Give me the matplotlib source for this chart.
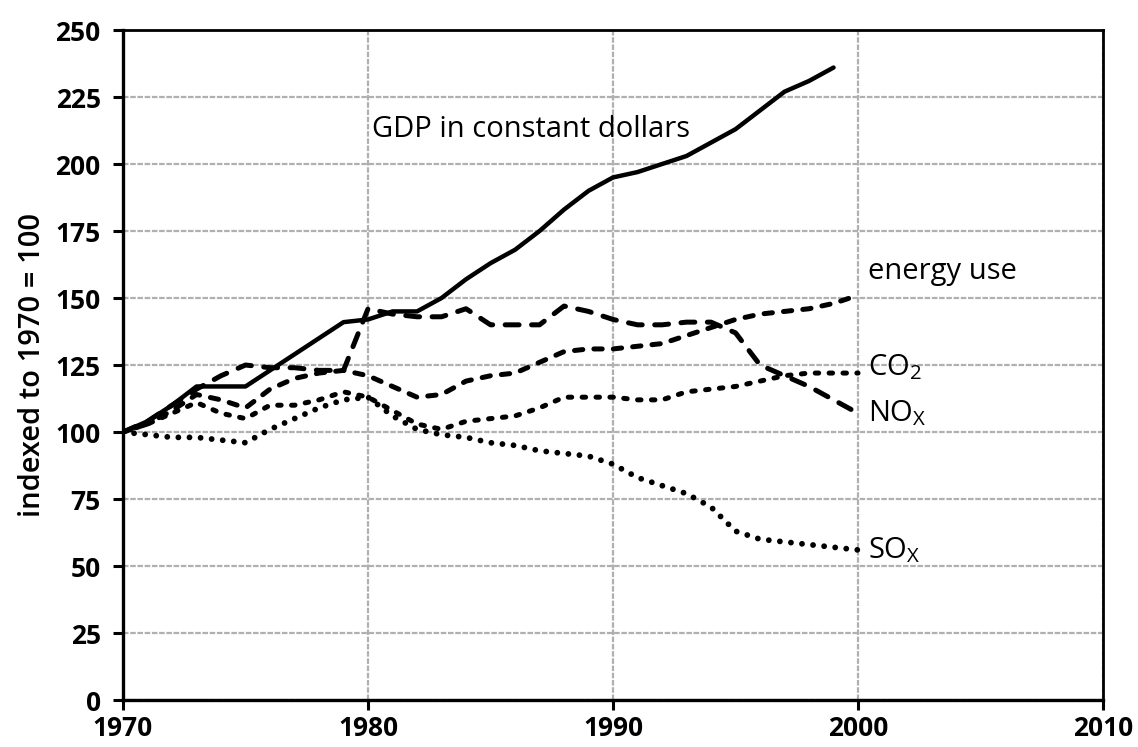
import numpy as np
import matplotlib
matplotlib.use("Agg")
import matplotlib.pyplot as plt

# === Data (indexed to 1970 = 100) ===
years = list(range(1970, 2001))
gdp_years = list(range(1970, 2000))
gdp = [100, 104, 110, 117, 117, 117, 123, 129, 135, 141,
       142, 145, 145, 150, 157, 163, 168, 175, 183, 190,
       195, 197, 200, 203, 208, 213, 220, 227, 231, 236]
energy = [100, 103, 108, 114, 112, 109, 116, 120, 122, 123,
          121, 117, 113, 114, 119, 121, 122, 126, 130, 131,
          131, 132, 133, 136, 139, 142, 144, 145, 146, 148, 151]
co2 = [100, 103, 107, 111, 107, 105, 110, 110, 112, 115,
       113, 108, 103, 101, 104, 105, 106, 109, 113, 113,
       113, 112, 112, 115, 116, 117, 119, 121, 122, 122, 122]
nox = [100, 104, 110, 116, 121, 125, 124, 124, 123, 123,
       146, 144, 143, 143, 146, 140, 140, 140, 147, 145,
       142, 140, 140, 141, 141, 137, 125, 121, 117, 112, 107]
sox = [100, 99, 98, 98, 97, 96, 101, 105, 109, 112,
       113, 106, 101, 99, 98, 96, 95, 93, 92, 91,
       88, 83, 80, 77, 72, 63, 60, 59, 58, 57, 56]

plt.rcParams['font.family'] = ['Open Sans', 'DejaVu Sans']
plt.rcParams['mathtext.fontset'] = 'custom'
plt.rcParams['mathtext.rm'] = 'Open Sans'
plt.rcParams['lines.scale_dashes'] = False

fig = plt.figure(figsize=(11.38, 7.47), dpi=100)
ax = fig.add_axes([0.1081, 0.0629, 0.8612, 0.8969])

# === Lines ===
ax.plot(gdp_years, gdp, color='black', lw=3.2, solid_capstyle='round', solid_joinstyle='round')
ax.plot(years, nox, color='black', lw=3.6, linestyle=(0, (10, 9)), dash_capstyle='round')
ax.plot(years, energy, color='black', lw=3.6, linestyle=(0, (6, 8)), dash_capstyle='round')
ax.plot(years, co2, color='black', lw=3.6, linestyle=(0, (2.5, 7.5)), dash_capstyle='round')
ax.plot(years, sox, color='black', lw=4.2, linestyle=(0, (0.01, 8)), dash_capstyle='round')

# === Labels on the lines ===
ax.text(1980.15, 213, "GDP in constant dollars", fontsize=21, va='center', ha='left')
ax.text(2000.4, 160, "energy use", fontsize=21, va='center', ha='left')
ax.text(2000.4, 124, r"CO$_\mathrm{2}$", fontsize=21, va='center', ha='left')
ax.text(2000.4, 107, r"NO$_\mathrm{X}$", fontsize=21, va='center', ha='left')
ax.text(2000.4, 56, r"SO$_\mathrm{X}$", fontsize=21, va='center', ha='left')

# === Axes styling ===
ax.set_xlim(1970, 2010)
ax.set_ylim(0, 250)
ax.set_xticks([1970, 1980, 1990, 2000, 2010])
ax.set_yticks(np.arange(0, 251, 25))
ax.set_ylabel("indexed to 1970 = 100", fontsize=21, fontweight='semibold', labelpad=6)

for lab in ax.get_xticklabels() + ax.get_yticklabels():
    lab.set_fontweight('bold')
    lab.set_fontsize(19)

ax.tick_params(direction='out', length=7, width=2.2, color='black')
ax.tick_params(axis='y', pad=9)
ax.tick_params(axis='x', pad=4)

for side in ['left', 'bottom']:
    ax.spines[side].set_linewidth(2.4)
for side in ['top', 'right']:
    ax.spines[side].set_linewidth(2.0)

ax.grid(True, color='#b0b0b0', linewidth=1.6, linestyle=(0, (4, 1.2)))
ax.set_axisbelow(True)

plt.savefig("out.png", dpi=100)
